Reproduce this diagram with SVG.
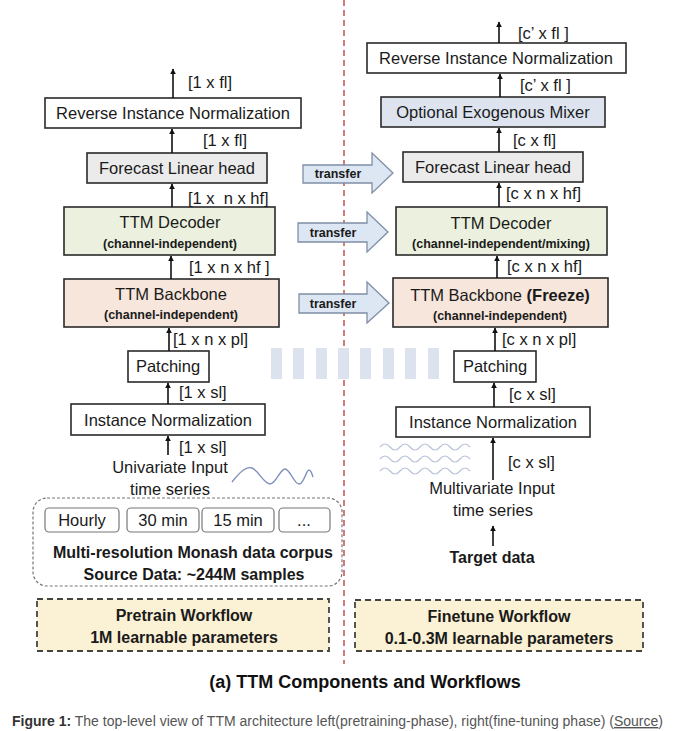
<svg xmlns="http://www.w3.org/2000/svg" width="680" height="731" viewBox="0 0 680 731">
<style>
text{font-family:"Liberation Sans",Arial,sans-serif;fill:#1a1a1a}
.bx{stroke:#2a2a2a;stroke-width:1.6}
.t{font-size:16.5px;text-anchor:middle}
.sub{font-size:12.5px;font-weight:bold;text-anchor:middle}
.lb{font-size:16.5px}
.tr{font-size:12.5px;font-weight:bold;text-anchor:middle}
.b{font-weight:bold;font-size:16px;text-anchor:middle}
.ar{stroke:#111;stroke-width:1.6;fill:none;marker-end:url(#ah)}
.xf{fill:#dde6f3;stroke:#7f8fa6;stroke-width:1.3}
.wv{fill:none;stroke:#7d90bb;stroke-width:1.4}
.wv2{fill:none;stroke:#b9c3da;stroke-width:1.2}
.sm{fill:#fff;stroke:#777;stroke-width:1.2}
.wf{fill:#fbf1d5;stroke:#444;stroke-width:1.8;stroke-dasharray:6 4}
.bar{fill:#dde3ee}
</style>
<defs>
<marker id="ah" viewBox="0 0 10 10" refX="9" refY="5" markerWidth="6" markerHeight="8" orient="auto" markerUnits="userSpaceOnUse">
<path d="M0,0 L10,5 L0,10 z" fill="#111"/>
</marker>
</defs>
<rect width="680" height="731" fill="#fff"/>

<!-- divider -->
<line x1="344" y1="0" x2="344" y2="664" stroke="#c0504d" stroke-width="1.5" stroke-dasharray="6 4"/>

<!-- dash bars -->
<g id="bars">
<rect class="bar" x="271" y="348" width="11" height="31"/>
<rect class="bar" x="293" y="348" width="11" height="31"/>
<rect class="bar" x="316" y="348" width="11" height="31"/>
<rect class="bar" x="338" y="348" width="11" height="31"/>
<rect class="bar" x="360" y="348" width="11" height="31"/>
<rect class="bar" x="383" y="348" width="11" height="31"/>
<rect class="bar" x="405" y="348" width="11" height="31"/>
<rect class="bar" x="428" y="348" width="11" height="31"/>
</g>

<!-- LEFT nodes -->
<g id="l-rin"><rect class="bx" x="45" y="98" width="256" height="30" fill="#fff"/><text class="t" x="173" y="119">Reverse Instance Normalization</text></g>
<g id="l-flh"><rect class="bx" x="87" y="153" width="180" height="30" fill="#ebebeb"/><text class="t" x="177" y="174">Forecast Linear head</text></g>
<g id="l-dec"><rect class="bx" x="64" y="207" width="211" height="48" fill="#ebf1de"/><text class="t" x="170" y="228">TTM Decoder</text><text class="sub" x="170" y="248">(channel-independent)</text></g>
<g id="l-bb"><rect class="bx" x="64" y="279" width="215" height="48" fill="#f6e6dc"/><text class="t" x="171" y="300">TTM Backbone</text><text class="sub" x="171" y="319">(channel-independent)</text></g>
<g id="l-pat"><rect class="bx" x="128" y="351" width="81" height="31" fill="#fff"/><text class="t" x="168" y="372">Patching</text></g>
<g id="l-in"><rect class="bx" x="71" y="404" width="194" height="31" fill="#fff"/><text class="t" x="168" y="426">Instance Normalization</text></g>
<g id="l-input"><text class="t" x="170" y="473">Univariate Input</text><text class="t" x="170" y="495">time series</text>
<path class="wv" d="M232,482 C240,472 246,466 252,468 C258,470 264,484 270,484 C276,484 280,469 285,469 C290,469 294,484 299,484 C304,484 306,470 309,470 C311,470 312,474 313,477"/></g>
<g id="l-corpus">
<rect x="33" y="498" width="309" height="88" rx="14" fill="none" stroke="#777" stroke-width="1.2" stroke-dasharray="3 2"/>
<rect class="sm" x="45" y="508" width="74" height="24" rx="4"/><text class="lb" x="82" y="526" text-anchor="middle">Hourly</text>
<rect class="sm" x="127" y="508" width="72" height="24" rx="4"/><text class="lb" x="163" y="526" text-anchor="middle">30 min</text>
<rect class="sm" x="202" y="508" width="72" height="24" rx="4"/><text class="lb" x="238" y="526" text-anchor="middle">15 min</text>
<rect class="sm" x="279" y="508" width="51" height="24" rx="4"/><text class="lb" x="304" y="526" text-anchor="middle">...</text>
<text class="b" x="193" y="558">Multi-resolution Monash data corpus</text>
<text class="b" x="194" y="580">Source Data: ~244M samples</text>
</g>
<g id="l-wf"><rect class="wf" x="37" y="599" width="292" height="52"/><text class="b" x="184" y="621">Pretrain Workflow</text><text class="b" x="184" y="643">1M learnable parameters</text></g>

<!-- RIGHT nodes -->
<g id="r-rin"><rect class="bx" x="367" y="43" width="259" height="30" fill="#fff"/><text class="t" x="496" y="64">Reverse Instance Normalization</text></g>
<g id="r-mix"><rect class="bx" x="381" y="97" width="224" height="30" fill="#dde4f0"/><text class="t" x="493" y="118">Optional Exogenous Mixer</text></g>
<g id="r-flh"><rect class="bx" x="403" y="152" width="180" height="30" fill="#ebebeb"/><text class="t" x="493" y="173">Forecast Linear head</text></g>
<g id="r-dec"><rect class="bx" x="396" y="207" width="211" height="48" fill="#ebf1de"/><text class="t" x="501" y="229">TTM Decoder</text><text class="sub" x="501" y="248">(channel-independent/mixing)</text></g>
<g id="r-bb"><rect class="bx" x="393" y="278" width="215" height="49" fill="#f6e6dc"/><text class="t" x="500" y="301">TTM Backbone <tspan font-weight="bold">(Freeze)</tspan></text><text class="sub" x="500" y="320">(channel-independent)</text></g>
<g id="r-pat"><rect class="bx" x="454" y="351" width="82" height="31" fill="#fff"/><text class="t" x="495" y="372">Patching</text></g>
<g id="r-in"><rect class="bx" x="396" y="407" width="194" height="30" fill="#fff"/><text class="t" x="493" y="428">Instance Normalization</text></g>
<g id="r-input"><text class="t" x="492" y="494">Multivariate Input</text><text class="t" x="493" y="516">time series</text>
<path class="wv2" d="M380,447 q5,-6 10,0 t10,0 t10,0 t10,0 t10,0 t10,0 t10,0 t10,0 t10,0"/>
<path class="wv2" d="M380,459 q5,-6 10,0 t10,0 t10,0 t10,0 t10,0 t10,0 t10,0 t10,0 t10,0"/>
<path class="wv2" d="M380,471 q5,-6 10,0 t10,0 t10,0 t10,0 t10,0 t10,0 t10,0 t10,0 t10,0"/></g>
<g id="r-target"><text class="b" x="492" y="563">Target data</text></g>
<g id="r-wf"><rect class="wf" x="355" y="600" width="288" height="51"/><text class="b" x="499" y="622">Finetune Workflow</text><text class="b" x="499" y="644">0.1-0.3M learnable parameters</text></g>

<!-- connectors -->
<g id="connectors">
<line class="ar" x1="173" y1="98" x2="173" y2="69"/>
<line class="ar" x1="172" y1="153" x2="172" y2="129"/>
<line class="ar" x1="172" y1="207" x2="172" y2="184"/>
<line class="ar" x1="171" y1="279" x2="171" y2="256"/>
<line class="ar" x1="169" y1="351" x2="169" y2="328"/>
<line class="ar" x1="168" y1="404" x2="168" y2="383"/>
<line class="ar" x1="168" y1="455" x2="168" y2="436"/>

<line class="ar" x1="499" y1="43" x2="499" y2="22"/>
<line class="ar" x1="500" y1="97" x2="500" y2="74"/>
<line class="ar" x1="499" y1="152" x2="499" y2="128"/>
<line class="ar" x1="499" y1="207" x2="499" y2="183"/>
<line class="ar" x1="497" y1="278" x2="497" y2="256"/>
<line class="ar" x1="495" y1="351" x2="495" y2="328"/>
<line class="ar" x1="494" y1="407" x2="494" y2="383"/>
<line class="ar" x1="493" y1="480" x2="493" y2="438"/>
<line class="ar" x1="493" y1="546" x2="493" y2="526"/>

<polygon class="xf" points="303,165 372,165 372,153 393,173 372,193 372,183 303,183"/>
<text class="tr" x="338" y="178">transfer</text>
<polygon class="xf" points="298,223 367,223 367,212 388,232 367,252 367,242 298,242"/>
<text class="tr" x="333" y="237">transfer</text>
<polygon class="xf" points="299,294 367,294 367,282 389,303 367,323 367,313 299,313"/>
<text class="tr" x="333" y="308">transfer</text>

<text class="lb" x="188" y="88">[1 x fl]</text>
<text class="lb" x="203" y="146">[1 x fl]</text>
<text class="lb" x="188" y="204" xml:space="preserve">[1 x  n x hf]</text>
<text class="lb" x="189" y="273">[1 x n x hf ]</text>
<text class="lb" x="173" y="345">[1 x n x pl]</text>
<text class="lb" x="179" y="398">[1 x sl]</text>
<text class="lb" x="179" y="453">[1 x sl]</text>

<text class="lb" x="518" y="39">[c’ x fl ]</text>
<text class="lb" x="520" y="91">[c’ x fl ]</text>
<text class="lb" x="513" y="146">[c x fl]</text>
<text class="lb" x="506" y="199">[c x n x hf]</text>
<text class="lb" x="507" y="272">[c x n x hf]</text>
<text class="lb" x="502" y="345">[c x n x pl]</text>
<text class="lb" x="509" y="400">[c x sl]</text>
<text class="lb" x="508" y="468">[c x sl]</text>
</g>

<text x="365" y="688" font-size="18" font-weight="bold" text-anchor="middle" style="fill:#111">(a) TTM Components and Workflows</text>
<text x="12" y="726" font-size="14" textLength="651" lengthAdjust="spacingAndGlyphs" style="fill:#555"><tspan font-weight="bold" style="fill:#333">Figure 1:</tspan> The top-level view of TTM architecture left(pretraining-phase), right(fine-tuning phase) (<tspan text-decoration="underline">Source</tspan>)</text>
</svg>
